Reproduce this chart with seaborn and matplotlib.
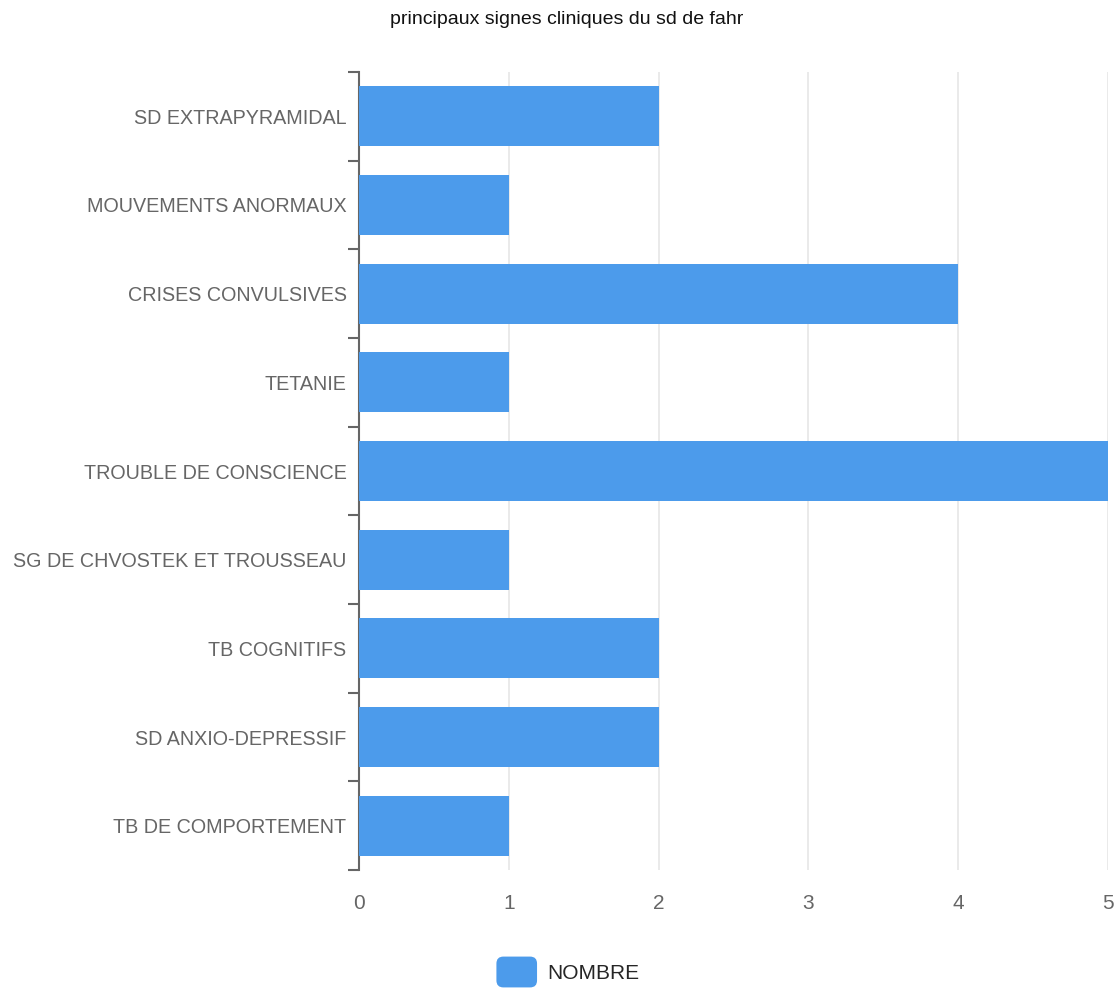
import matplotlib
matplotlib.use("Agg")
import matplotlib.pyplot as plt
import matplotlib.patches as mpatches
from matplotlib.legend_handler import HandlerPatch
import seaborn as sns
import pandas as pd
import numpy as np

categories = ["SD EXTRAPYRAMIDAL", "MOUVEMENTS ANORMAUX", "CRISES CONVULSIVES", "TETANIE",
              "TROUBLE DE CONSCIENCE", "SG DE CHVOSTEK ET TROUSSEAU", "TB COGNITIFS",
              "SD ANXIO-DEPRESSIF", "TB DE COMPORTEMENT"]
values = [2, 1, 4, 1, 5, 1, 2, 2, 1]
series_name = "NOMBRE"
title = "principaux signes cliniques du sd de fahr"
xticks = [0, 1, 2, 3, 4, 5]

color = "#4c9beb"

sns.set_theme(style="white")
plt.rcParams['font.family'] = ['Liberation Sans', 'DejaVu Sans']

df = pd.DataFrame({"cat": categories, "val": values})

fig = plt.figure(figsize=(11.18, 9.88), dpi=100)
ax = fig.add_axes([359/1118, 1-870/988, (1108-359)/1118, (870-72)/988])

sns.barplot(data=df, y="cat", x="val", orient="h", color=color, width=0.68,
            saturation=1, ax=ax, zorder=3, linewidth=0)

ax.set_xlim(0, 5)
ax.set_ylim(len(categories)-0.5, -0.5)
ax.set_xticks(xticks)
ax.set_xticklabels([str(t) for t in xticks])
ax.set_xlabel("")
ax.set_ylabel("")

ax.grid(axis="x", color="#e6e6e6", linewidth=1.2, zorder=0)
ax.grid(axis="y", visible=False)
for s in ["top", "right", "bottom"]:
    ax.spines[s].set_visible(False)
ax.spines["left"].set_color("#666666")
ax.spines["left"].set_linewidth(1.5)

ax.set_yticks(np.arange(-0.5, len(categories), 1.0), minor=True)
ax.tick_params(axis="y", which="minor", length=8, width=1.5, color="#666666", left=True)
ax.tick_params(axis="y", which="major", length=0, pad=9, labelsize=14.2, labelcolor="#666666")
ax.tick_params(axis="x", which="major", length=0, pad=17, labelsize=15, labelcolor="#666666")

fig.text(567/1118, 1-20/988, title, ha="center", va="center", fontsize=14, color="#111111")


class RoundHandler(HandlerPatch):
    def create_artists(self, legend, orig_handle, xdescent, ydescent, width, height, fontsize, trans):
        p = mpatches.FancyBboxPatch((-xdescent, -ydescent), width, height,
                                    boxstyle="round,pad=0,rounding_size=5",
                                    facecolor=orig_handle.get_facecolor(), edgecolor="none",
                                    transform=trans)
        return [p]


handle = mpatches.Patch(facecolor=color, label=series_name)
fig.legend(handles=[handle], loc="center", bbox_to_anchor=(568/1118, 1-972/988), frameon=False,
           fontsize=15, handler_map={mpatches.Patch: RoundHandler()},
           handlelength=1.95, handleheight=1.9, handletextpad=0.5)

fig.savefig("out.png", dpi=100)
